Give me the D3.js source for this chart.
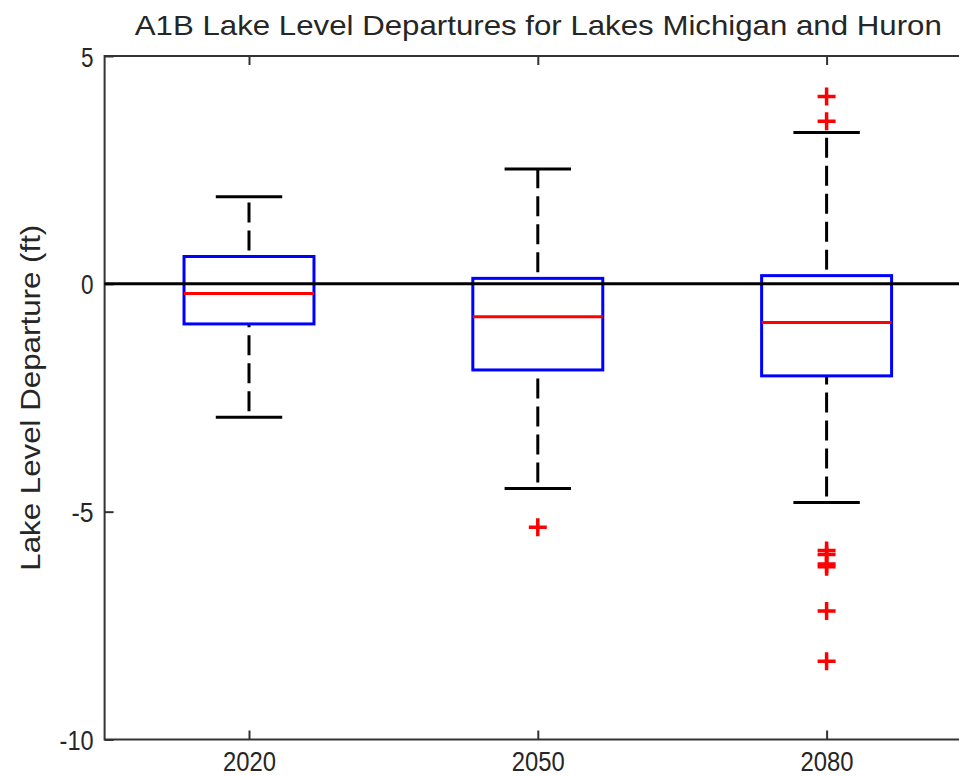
<!DOCTYPE html>
<html>
<head>
<meta charset="utf-8">
<script src="https://cdn.jsdelivr.net/npm/d3@7"></script>
<style>
  html, body { margin: 0; padding: 0; background: #fff; overflow: hidden; }
  svg { display: block; }
  text { font-family: "Liberation Sans", Arial, sans-serif; fill: #262626; }
</style>
</head>
<body>
<svg id="chart" width="959" height="776"></svg>
<script>
// Box-plot statistics per projection year (feet of departure)
const categories   = ["2020", "2050", "2080"];
const q1           = [-0.88, -1.89, -2.02];
const medians      = [-0.21, -0.72, -0.85];
const q3           = [0.60, 0.12, 0.18];
const whiskerLow   = [-2.93, -4.49, -4.80];
const whiskerHigh  = [1.91, 2.52, 3.32];
const outliers     = [
  [],
  [-5.34],
  [4.11, 3.57, -5.85, -5.94, -6.15, -6.21, -7.18, -8.28]
];
const yTicks = [5, 0, -5, -10];

const titleText = "A1B Lake Level Departures for Lakes Michigan and Huron";
const yLabelText = "Lake Level Departure (ft)";

const svg = d3.select("#chart");
const plotLeft = 104.6, plotRight = 971, plotTop = 56, plotBottom = 739.5;

const x = d3.scaleLinear().domain([0.5, categories.length + 0.5]).range([plotLeft, plotRight]);
const y = d3.scaleLinear().domain([-10, 5]).range([plotBottom, plotTop]);

const boxHalf = 0.225, capHalf = 0.115;
const axisColor = "#333";

// Axes frame
svg.append("rect")
  .attr("x", plotLeft).attr("y", plotTop)
  .attr("width", plotRight - plotLeft).attr("height", plotBottom - plotTop)
  .attr("fill", "none").attr("stroke", axisColor).attr("stroke-width", 2);

// Bottom axis (ticks point inward)
const xAxis = d3.axisBottom(x)
  .tickValues(categories.map((d, i) => i + 1))
  .tickFormat((d, i) => categories[i])
  .tickSizeInner(-9).tickSizeOuter(0).tickPadding(0);
const gx = svg.append("g").attr("transform", `translate(0,${plotBottom})`).call(xAxis);
gx.select(".domain").remove();
gx.selectAll(".tick line").attr("stroke", axisColor).attr("stroke-width", 2);
gx.selectAll(".tick text")
  .attr("y", 31).attr("dy", 0)
  .style("font-size", "28px")
  .attr("textLength", 53).attr("lengthAdjust", "spacingAndGlyphs")
  .attr("fill", "#262626");

// Top axis ticks (no labels)
const xTopAxis = d3.axisTop(x)
  .tickValues(categories.map((d, i) => i + 1))
  .tickFormat("")
  .tickSizeInner(-9).tickSizeOuter(0);
const gxt = svg.append("g").attr("transform", `translate(0,${plotTop})`).call(xTopAxis);
gxt.select(".domain").remove();
gxt.selectAll(".tick line").attr("stroke", axisColor).attr("stroke-width", 2);

// Left axis
const yAxis = d3.axisLeft(y)
  .tickValues(yTicks)
  .tickFormat(d3.format("d"))
  .tickSizeInner(-9).tickSizeOuter(0).tickPadding(0);
const gy = svg.append("g").attr("transform", `translate(${plotLeft},0)`).call(yAxis);
gy.select(".domain").remove();
gy.selectAll(".tick line").attr("stroke", axisColor).attr("stroke-width", 2);
gy.selectAll(".tick text")
  .attr("x", -11).attr("dy", "0.36em")
  .style("font-size", "28px")
  .each(function(d) {
    const s = String(d);
    d3.select(this).text(s);
    const n = s.length;
    const w = n === 1 ? 12.5 : (n === 2 ? 22 : 34);
    d3.select(this).attr("textLength", w).attr("lengthAdjust", "spacingAndGlyphs");
  })
  .attr("fill", "#262626");

const data = categories.map((c, i) => ({
  c, i: i + 1, q1: q1[i], med: medians[i], q3: q3[i],
  lo: whiskerLow[i], hi: whiskerHigh[i], out: outliers[i]
}));

const g = svg.append("g");

// Whiskers: dashed, drawn from the lower end upward
const dashStyle = sel => sel
  .attr("stroke", "#000").attr("stroke-width", 3)
  .attr("stroke-dasharray", "20 8").attr("stroke-dashoffset", 22)
  .attr("fill", "none");

g.selectAll(".wup").data(data).join("line").attr("class", "wup")
  .attr("x1", d => x(d.i)).attr("x2", d => x(d.i))
  .attr("y1", d => y(d.q3)).attr("y2", d => y(d.hi))
  .call(dashStyle);
g.selectAll(".wlo").data(data).join("line").attr("class", "wlo")
  .attr("x1", d => x(d.i)).attr("x2", d => x(d.i))
  .attr("y1", d => y(d.lo)).attr("y2", d => y(d.q1))
  .call(dashStyle);

// Whisker caps
["hi", "lo"].forEach(k => {
  g.selectAll(".cap-" + k).data(data).join("line").attr("class", "cap-" + k)
    .attr("x1", d => x(d.i - capHalf)).attr("x2", d => x(d.i + capHalf))
    .attr("y1", d => y(d[k])).attr("y2", d => y(d[k]))
    .attr("stroke", "#000").attr("stroke-width", 3);
});

// Boxes
g.selectAll(".box").data(data).join("rect").attr("class", "box")
  .attr("x", d => x(d.i - boxHalf))
  .attr("width", d => x(d.i + boxHalf) - x(d.i - boxHalf))
  .attr("y", d => y(d.q3))
  .attr("height", d => y(d.q1) - y(d.q3))
  .attr("fill", "none").attr("stroke", "#0000ff").attr("stroke-width", 3);

// Medians
g.selectAll(".med").data(data).join("line").attr("class", "med")
  .attr("x1", d => x(d.i - boxHalf)).attr("x2", d => x(d.i + boxHalf))
  .attr("y1", d => y(d.med)).attr("y2", d => y(d.med))
  .attr("stroke", "#ff0000").attr("stroke-width", 3);

// Zero reference line
svg.append("line")
  .attr("x1", plotLeft).attr("x2", plotRight)
  .attr("y1", y(0)).attr("y2", y(0))
  .attr("stroke", "#000").attr("stroke-width", 3);

// Outliers as red plus markers
const pts = data.flatMap(d => d.out.map(v => ({ i: d.i, v })));
const arm = 9;
svg.append("g").selectAll("path").data(pts).join("path")
  .attr("d", d => {
    const cx = x(d.i), cy = y(d.v);
    return `M${cx - arm},${cy}H${cx + arm}M${cx},${cy - arm}V${cy + arm}`;
  })
  .attr("stroke", "#ff0000").attr("stroke-width", 3.5).attr("fill", "none");

// Title
svg.append("text")
  .attr("x", (plotLeft + plotRight) / 2 + 0.5).attr("y", 35)
  .attr("text-anchor", "middle")
  .style("font-size", "28px")
  .attr("textLength", 807).attr("lengthAdjust", "spacingAndGlyphs")
  .text(titleText);

// Y-axis label
svg.append("text")
  .attr("transform", `translate(40,${(plotTop + plotBottom) / 2}) rotate(-90)`)
  .attr("text-anchor", "middle")
  .style("font-size", "28px")
  .attr("textLength", 346).attr("lengthAdjust", "spacingAndGlyphs")
  .text(yLabelText);
</script>
</body>
</html>
